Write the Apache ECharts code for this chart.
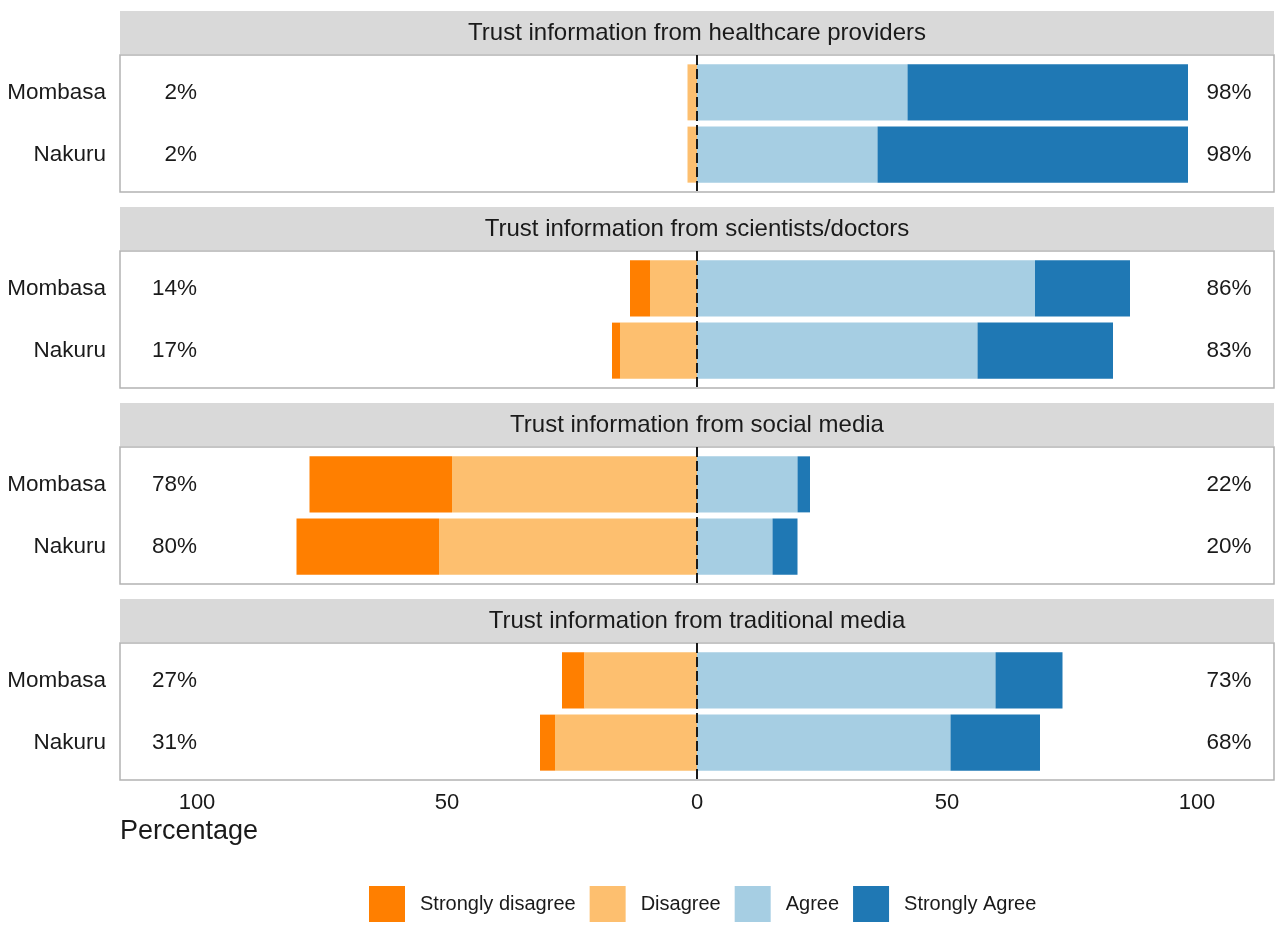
<!DOCTYPE html>
<html>
<head>
<meta charset="utf-8">
<title>Trust in information sources</title>
<script src="https://cdn.jsdelivr.net/npm/echarts@6/dist/echarts.min.js"></script>
<style>
  html, body { margin: 0; padding: 0; background: #fff; }
  #main { width: 1280px; height: 934px; }
</style>
</head>
<body>
<div id="main"></div>
<script>
// data (percent of respondents)
var cities = ['Mombasa', 'Nakuru'];
var facets = [
    'Trust information from healthcare providers',
    'Trust information from scientists/doctors',
    'Trust information from social media',
    'Trust information from traditional media'
];
var levels = ['Strongly disagree', 'Disagree', 'Agree', 'Strongly Agree'];
// [facet][city]
var strongDisagree = [[0, 0], [4, 1.6], [28.5, 28.5], [4.5, 3]];
var disagree = [[1.9, 1.9], [9.4, 15.4], [49, 51.6], [22.5, 28.4]];
var agree = [[42.1, 36.1], [67.6, 56.1], [20.1, 15.1], [59.7, 50.7]];
var strongAgree = [[56.1, 62.1], [19, 27.1], [2.5, 5], [13.4, 17.9]];
var negLabels = [['2%', '2%'], ['14%', '17%'], ['78%', '80%'], ['27%', '31%']];
var posLabels = [['98%', '98%'], ['86%', '83%'], ['22%', '20%'], ['73%', '68%']];
var xTicks = [-100, -50, 0, 50, 100];

var colors = ['#ff7f00', '#fdbf6f', '#a6cee3', '#1f78b4'];
var font = 'Liberation Sans, Arial, sans-serif';
var ink = '#1a1a1a';

var myChart = echarts.init(document.getElementById('main'));

// layout of the facets
var panelLeft = 120, panelWidth = 1154;
var facetTop = [11, 207, 403, 599];
var stripH = 43, panelH = 137;

function renderBar(params, api) {
    var s = api.coord([api.value(0), api.value(2)]);
    var e = api.coord([api.value(1), api.value(2)]);
    var h = api.size([0, 0.9])[1];
    return {
        type: 'rect',
        shape: { x: Math.min(s[0], e[0]), y: s[1] - h / 2, width: Math.abs(e[0] - s[0]), height: h },
        style: api.style()
    };
}

var grids = [], xAxes = [], yAxes = [], series = [], graphics = [];

facets.forEach(function (title, i) {
    var top = facetTop[i];
    var last = i === facets.length - 1;

    graphics.push({
        type: 'rect',
        shape: { x: panelLeft, y: top, width: panelWidth, height: stripH },
        style: { fill: '#d9d9d9' },
        silent: true
    });
    graphics.push({
        type: 'text',
        x: panelLeft + panelWidth / 2,
        y: top + stripH / 2 + 1,
        style: {
            text: title, fill: ink, font: '24px ' + font,
            textAlign: 'center', textVerticalAlign: 'middle'
        },
        silent: true
    });

    grids.push({
        left: panelLeft, top: top + stripH + 1, width: panelWidth, height: panelH,
        show: true, backgroundColor: '#fff', borderColor: '#b3b3b3', borderWidth: 1.5
    });
    xAxes.push({
        type: 'value', gridIndex: i, min: -115.4, max: 115.4,
        axisLine: { show: false }, axisTick: { show: false }, splitLine: { show: false },
        axisLabel: {
            show: last, customValues: xTicks, margin: 12,
            fontSize: 22, fontFamily: font, color: ink,
            formatter: function (v) { return Math.abs(v); }
        }
    });
    yAxes.push({
        type: 'value', gridIndex: i, min: 0.4, max: 2.6, inverse: true,
        axisLine: { show: false }, axisTick: { show: false }, splitLine: { show: false },
        axisLabel: {
            customValues: [1, 2], margin: 14,
            fontSize: 22.5, fontFamily: font, color: ink,
            formatter: function (v) { return cities[Math.round(v) - 1]; }
        }
    });

    var sdData = [], dData = [], aData = [], saData = [];
    cities.forEach(function (c, j) {
        var d = disagree[i][j], sd = strongDisagree[i][j];
        var a = agree[i][j], sa = strongAgree[i][j];
        sdData.push([-d - sd, -d, j + 1]);
        dData.push([-d, 0, j + 1]);
        aData.push([0, a, j + 1]);
        saData.push([a, a + sa, j + 1]);
    });
    [sdData, dData, aData, saData].forEach(function (data, k) {
        series.push({
            type: 'custom', name: levels[k],
            xAxisIndex: i, yAxisIndex: i,
            renderItem: renderBar,
            encode: { x: [0, 1], y: 2 },
            itemStyle: { color: colors[k] },
            data: data, silent: true
        });
    });

    // zero reference line
    series.push({
        type: 'line', xAxisIndex: i, yAxisIndex: i,
        data: [[0, 0.4], [0, 2.6]], symbol: 'none', silent: true, z: 5,
        lineStyle: { color: ink, width: 2, type: [10, 4] }
    });

    // percentage labels either side
    series.push({
        type: 'scatter', xAxisIndex: i, yAxisIndex: i, symbolSize: 0, silent: true,
        itemStyle: { opacity: 1 },
        data: cities.map(function (c, j) { return [-100, j + 1, negLabels[i][j]]; }),
        label: {
            show: true, position: 'left', distance: 0,
            fontSize: 22.5, fontFamily: font, color: ink,
            formatter: function (p) { return p.value[2]; }
        }
    });
    series.push({
        type: 'scatter', xAxisIndex: i, yAxisIndex: i, symbolSize: 0, silent: true,
        itemStyle: { opacity: 1 },
        data: cities.map(function (c, j) { return [106.4, j + 1, posLabels[i][j]]; }),
        label: {
            show: true, position: 'inside',
            fontSize: 22.5, fontFamily: font, color: ink,
            formatter: function (p) { return p.value[2]; }
        }
    });
});

myChart.setOption({
    animation: false,
    title: {
        text: 'Percentage', left: 115, top: 813,
        textStyle: { fontSize: 27, fontWeight: 'normal', fontFamily: font, color: ink }
    },
    legend: {
        data: levels, left: 364, top: 881,
        icon: 'rect', itemWidth: 36, itemHeight: 36, itemGap: 14,
        textStyle: { fontSize: 20, fontFamily: font, color: ink, padding: [0, 0, 0, 10] }
    },
    graphic: graphics,
    grid: grids,
    xAxis: xAxes,
    yAxis: yAxes,
    series: series
});
</script>
</body>
</html>
